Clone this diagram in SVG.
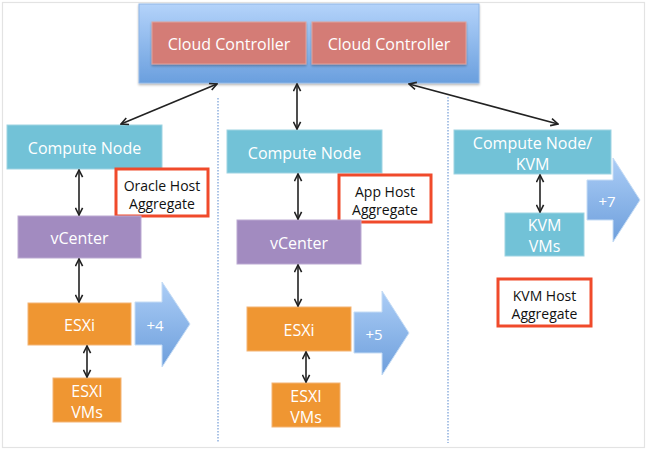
<svg xmlns="http://www.w3.org/2000/svg" width="647" height="450" viewBox="0 0 647 450">
<defs>
<linearGradient id="gBlue" x1="0" y1="0" x2="0" y2="1">
<stop offset="0" stop-color="#b4d3fa"/>
<stop offset="1" stop-color="#6a9fde"/>
</linearGradient>
<linearGradient id="gArrow" x1="0" y1="0" x2="0" y2="1">
<stop offset="0" stop-color="#abcdf6"/>
<stop offset="1" stop-color="#6e9fdc"/>
</linearGradient>
<filter id="sh" x="-10%" y="-10%" width="120%" height="130%">
<feDropShadow dx="0" dy="1.5" stdDeviation="1.2" flood-color="#000" flood-opacity="0.3"/>
</filter>
<marker id="ah" viewBox="0 0 10 10" refX="9" refY="5" markerWidth="9" markerHeight="9" orient="auto-start-reverse" markerUnits="userSpaceOnUse">
<path d="M1,1 L9,5 L1,9" fill="none" stroke="#222" stroke-width="1.8"/>
</marker>
</defs>
<style>
.t{font-family:"Open Sans","Liberation Sans",sans-serif;text-anchor:middle;dominant-baseline:central}
.w{fill:#fff;font-size:16px}
.k{fill:#111;font-size:14px}
.p{font-size:15px}
.cc{fill:#d47c76;stroke:#e0a29c;stroke-width:1}
.cn{fill:#72c2d7;stroke:#9ed3e2;stroke-width:1}
.vc{fill:#a28bc0;stroke:#bba9d2;stroke-width:1}
.es{fill:#ef9632;stroke:#f3b474;stroke-width:1}
.ag{fill:#fff;stroke:#f04a2b;stroke-width:3}
.ba{fill:url(#gArrow);stroke:#c5dcf5;stroke-width:1}
.ln{stroke:#222;stroke-width:1.6;fill:none;marker-start:url(#ah);marker-end:url(#ah)}
.dv{stroke:#8fb0de;stroke-width:1.5;stroke-dasharray:1.5 1.5;fill:none}
</style>
<rect x="2.5" y="2.5" width="642" height="445" fill="#fff" stroke="#e3e3e3" stroke-width="1.2"/>
<g id="dividers">
<line class="dv" x1="218" y1="98" x2="218" y2="443"/>
<line class="dv" x1="448" y1="97" x2="448" y2="443"/>
</g>
<g id="cloud">
<rect x="139" y="4" width="340" height="79" fill="url(#gBlue)" stroke="#8fb6e6" stroke-width="1" filter="url(#sh)"/>
</g>
<g id="cc1">
<rect class="cc" x="152" y="22" width="154" height="42" filter="url(#sh)"/>
<text class="t w" x="229" y="44">Cloud Controller</text>
</g>
<g id="cc2">
<rect class="cc" x="312" y="22" width="154" height="42" filter="url(#sh)"/>
<text class="t w" x="389" y="44">Cloud Controller</text>
</g>
<g id="cn1">
<rect class="cn" x="7" y="125" width="155" height="44"/>
<text class="t w" x="84.5" y="148">Compute Node</text>
</g>
<g id="oracle">
<rect class="ag" x="116" y="169" width="92" height="47"/>
<text class="t k" x="162" y="185">Oracle Host</text>
<text class="t k" x="162" y="203">Aggregate</text>
</g>
<g id="vc1">
<rect class="vc" x="18" y="216" width="123" height="42"/>
<text class="t w" x="79.5" y="238">vCenter</text>
</g>
<g id="esxi1">
<rect class="es" x="28" y="303" width="103" height="42"/>
<text class="t w" x="79.5" y="325">ESXi</text>
</g>
<g id="plus4">
<polygon class="ba" points="135,302 162,302 162,282 190,324 162,367 162,345 135,345"/>
<text class="t w p" x="155" y="325">+4</text>
</g>
<g id="vms1">
<rect class="es" x="53" y="378" width="68" height="44"/>
<text class="t w" x="87" y="391">ESXI</text>
<text class="t w" x="87" y="412">VMs</text>
</g>
<g id="cn2">
<rect class="cn" x="227" y="130" width="155" height="43"/>
<text class="t w" x="304.5" y="153">Compute Node</text>
</g>
<g id="app">
<rect class="ag" x="339" y="175" width="92" height="47"/>
<text class="t k" x="385" y="191">App Host</text>
<text class="t k" x="385" y="209">Aggregate</text>
</g>
<g id="vc2">
<rect class="vc" x="237" y="220" width="124" height="44"/>
<text class="t w" x="299" y="243">vCenter</text>
</g>
<g id="esxi2">
<rect class="es" x="247" y="307" width="104" height="44"/>
<text class="t w" x="299" y="330">ESXi</text>
</g>
<g id="plus5">
<polygon class="ba" points="354,312 382,312 382,291 409,333 382,375 382,353 354,353"/>
<text class="t w p" x="374" y="334">+5</text>
</g>
<g id="vms2">
<rect class="es" x="272" y="383" width="68" height="44"/>
<text class="t w" x="306" y="396">ESXI</text>
<text class="t w" x="306" y="417">VMs</text>
</g>
<g id="cn3">
<rect class="cn" x="454" y="130" width="157" height="44"/>
<text class="t w" x="532.5" y="143">Compute Node/</text>
<text class="t w" x="532.5" y="164">KVM</text>
</g>
<g id="plus7">
<polygon class="ba" points="587,180 613,180 613,158 640,200 613,242 613,220 587,220"/>
<text class="t w p" x="607" y="201">+7</text>
</g>
<g id="kvmvms">
<rect class="cn" x="505" y="213" width="79" height="43"/>
<text class="t w" x="544.5" y="225">KVM</text>
<text class="t w" x="544.5" y="246">VMs</text>
</g>
<g id="kvmhost">
<rect class="ag" x="498" y="279" width="93" height="47"/>
<text class="t k" x="544.5" y="295">KVM Host</text>
<text class="t k" x="544.5" y="313">Aggregate</text>
</g>
<g id="connectors">
<line class="ln" x1="217" y1="84" x2="121" y2="124"/>
<line class="ln" x1="297" y1="84" x2="297" y2="129"/>
<line class="ln" x1="409" y1="84" x2="558" y2="124"/>
<line class="ln" x1="79" y1="170" x2="79" y2="215"/>
<line class="ln" x1="79" y1="259" x2="79" y2="302"/>
<line class="ln" x1="87" y1="346" x2="87" y2="377"/>
<line class="ln" x1="298" y1="174" x2="298" y2="219"/>
<line class="ln" x1="298" y1="265" x2="298" y2="306"/>
<line class="ln" x1="306" y1="352" x2="306" y2="382"/>
<line class="ln" x1="540" y1="175" x2="540" y2="212"/>
</g>
</svg>
